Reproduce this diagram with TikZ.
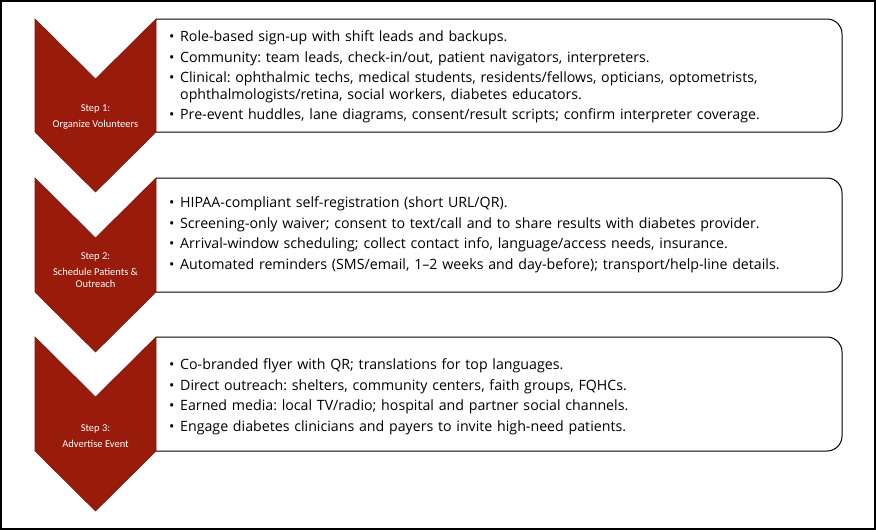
\documentclass[tikz,border=0pt]{standalone}
\usepackage{fontspec}
\setmainfont{Open Sans}
\newfontfamily\stepfont{Carlito}
\usetikzlibrary{positioning, calc}
\definecolor{stepred}{RGB}{152,27,12}
\newcommand{\bitem}{\par\hangindent=11pt\hangafter=1\noindent\makebox[11pt][l]{\textbullet}}

\begin{document}
\begin{tikzpicture}[x=1pt, y=-1pt,
    chev/.style={fill=stepred, draw=stepred!85!black, line width=0.6pt},
    steptext/.style={text=white, align=center, font=\stepfont\fontsize{10.5}{12}\selectfont},
    listtext/.style={anchor=west, inner sep=0pt, text width=690pt,
        font=\fontsize{14.2}{16.5}\selectfont,
        execute at begin node={\frenchspacing\setlength{\parskip}{4pt}}},
    boxline/.style={line width=1pt, rounded corners=15pt}]
    \useasboundingbox (0,0) rectangle (876,530);
    \draw[line width=2.5pt] (1,1) rectangle (875,529);

    % step 1
    \draw[boxline] (156,19) -- (842,19) -- (842,132) -- (156,132);
    \draw[chev] (35,19) -- ++(60.5,60) -- ++(60.5,-60) -- ++(0,113)
        -- ++(-60.5,60) -- ++(-60.5,-60) -- cycle;
    \node[steptext] (step1) at (95.5,117) {Step 1:\\[4pt]Organize Volunteers};
    \node[listtext] (list1) at (169,72) {%
        \bitem Role-based sign-up with shift leads and backups.
        \bitem Community: team leads, check-in/out, patient navigators, interpreters.
        \bitem Clinical: ophthalmic techs, medical students, residents/fellows, opticians, optometrists,\newline
            ophthalmologists/retina, social workers, diabetes educators.
        \bitem Pre-event huddles, lane diagrams, consent/result scripts; confirm interpreter coverage.\par};

    % step 2
    \draw[boxline] (156,178) -- (842,178) -- (842,292) -- (156,292);
    \draw[chev] (35,178) -- ++(60.5,60) -- ++(60.5,-60) -- ++(0,114)
        -- ++(-60.5,60) -- ++(-60.5,-60) -- cycle;
    \node[steptext] (step2) at (95.5,270) {Step 2:\\[4pt]Schedule Patients \&\\Outreach};
    \node[listtext] (list2) at (169,230) {%
        \bitem HIPAA-compliant self-registration (short URL/QR).
        \bitem Screening-only waiver; consent to text/call and to share results with diabetes provider.
        \bitem Arrival-window scheduling; collect contact info, language/access needs, insurance.
        \bitem Automated reminders (SMS/email, 1–2 weeks and day-before); transport/help-line details.\par};

    % step 3
    \draw[boxline] (156,337) -- (842,337) -- (842,451) -- (156,451);
    \draw[chev] (35,337) -- ++(60.5,60) -- ++(60.5,-60) -- ++(0,114)
        -- ++(-60.5,60) -- ++(-60.5,-60) -- cycle;
    \node[steptext] (step3) at (95.5,436) {Step 3:\\[4pt]Advertise Event};
    \node[listtext] (list3) at (169,392) {%
        \bitem Co-branded flyer with QR; translations for top languages.
        \bitem Direct outreach: shelters, community centers, faith groups, FQHCs.
        \bitem Earned media: local TV/radio; hospital and partner social channels.
        \bitem Engage diabetes clinicians and payers to invite high-need patients.\par};
\end{tikzpicture}
\end{document}
